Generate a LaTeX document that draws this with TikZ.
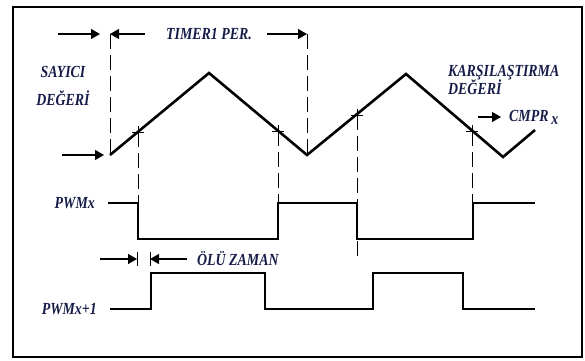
\documentclass[tikz,border=0pt]{standalone}
\usepackage{fontspec}
\setmainfont{Liberation Serif}
\newfontfamily\lblfont[FakeStretch=0.82]{Liberation Serif}
\usetikzlibrary{arrows.meta,positioning,calc}
\definecolor{lblcol}{RGB}{22,28,72}

\begin{document}
\begin{tikzpicture}[x=1bp, y=-1bp,
    lbl/.style={font=\lblfont\fontsize{17}{19}\selectfont\bfseries\itshape, text=lblcol, inner sep=0pt},
    wave/.style={line width=2.6bp, line join=miter},
    guide/.style={line width=0.9bp, dash pattern=on 15bp off 6bp},
    cross/.style={line width=0.9bp},
    arr/.style={-{Triangle[length=9bp,width=10bp]}, line width=1.3bp}
]
\useasboundingbox (0,0) rectangle (585,360);
\draw[line width=2bp] (13,7) rectangle (582,357);

% counter (triangle) wave
\coordinate (t0) at (110,155);
\coordinate (p1) at (209,73);
\coordinate (v1) at (307,155);
\coordinate (p2) at (406,74);
\coordinate (v2) at (503,157);
\coordinate (t1) at (535,130);
\draw[wave] (t0) -- (p1) -- (v1) -- (p2) -- (v2) -- (t1);

% compare points
\coordinate (c1) at (138,132);
\coordinate (c2) at (278,131);
\coordinate (c3) at (357,115);
\coordinate (c4) at (472,131);
\foreach \c in {c1,c2,c3,c4}
    \draw[cross] ($(\c)+(-6,0)$) -- ($(\c)+(6,0)$) ($(\c)+(0,-6)$) -- ($(\c)+(0,6)$);

% period markers
\coordinate (m0) at (110,34);
\coordinate (m1) at (307,34);
\draw[guide] (m0) -- (t0);
\draw[guide] (m1) -- (v1);
\draw[guide] (c1) -- (138,203);
\draw[guide] (c2) -- (278,203);
\draw[guide] (c3) -- (357,262);
\draw[guide] (c4) -- (472,203);

% labels
\node[lbl] (per) at (209,34) {TIMER1 PER.};
\node[lbl, align=center, font=\lblfont\fontsize{17}{28}\selectfont\bfseries\itshape] (cnt) at (63,86) {SAYICI\\DEĞERİ};
\node[lbl, align=left, anchor=west] (cmp) at (448,80) {KARŞILAŞTIRMA\\DEĞERİ};
\node[lbl, anchor=west] (cmpr) at (509,117) {CMPR\,\raisebox{-0.4ex}{x}};
\node[lbl, anchor=east] (pwma) at (95,203) {PWMx};
\node[lbl, anchor=east] (pwmb) at (97,309) {PWMx+1};
\node[lbl, anchor=west] (dead) at (197,259) {ÖLÜ ZAMAN};

% arrows
\coordinate (a0) at (58,34);
\coordinate (a1) at (100,34);
\coordinate (a2) at (145,34);
\coordinate (a3) at (267,34);
\coordinate (a4) at (62,155);
\coordinate (a5) at (104,155);
\coordinate (a6) at (478,117);
\draw[arr] (a0) -- (a1);
\draw[arr] (a2) -- (m0);
\draw[arr] (a3) -- (m1);
\draw[arr] (a4) -- (a5);
\draw[arr, shorten >=8bp] (a6) -- (cmpr.west);

% dead time
\coordinate (d0) at (100,259);
\coordinate (d1) at (137,259);
\coordinate (d2) at (150,259);
\coordinate (d3) at (187,259);
\draw[arr] (d0) -- (d1);
\draw[arr] (d3) -- (d2);
\draw[cross] ($(d1)+(0,-7)$) -- ($(d1)+(0,7)$);
\draw[cross] ($(d2)+(0,-7)$) -- ($(d2)+(0,7)$);

% PWM outputs
\draw[wave] (108,203) -- (138,203) -- (138,239) -- (278,239) -- (278,203)
    -- (357,203) -- (357,239) -- (473,239) -- (473,203) -- (535,203);
\draw[wave] (110,309) -- (151,309) -- (151,273) -- (265,273) -- (265,309)
    -- (373,309) -- (373,273) -- (463,273) -- (463,309) -- (535,309);
\end{tikzpicture}
\end{document}
